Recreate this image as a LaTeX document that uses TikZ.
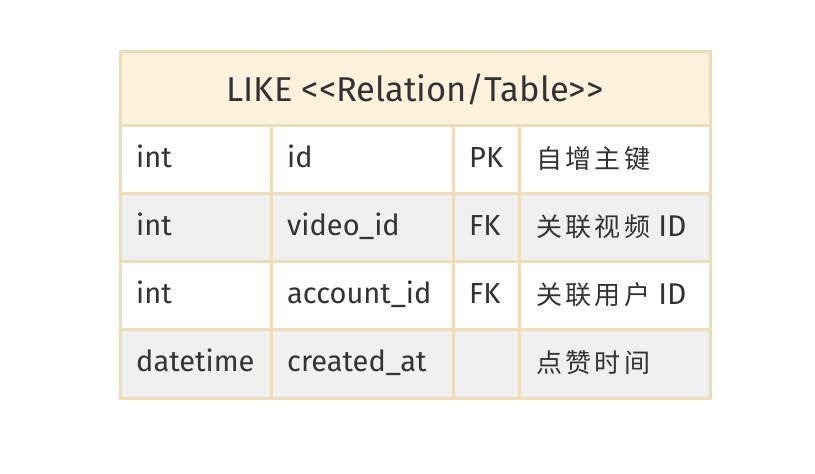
\documentclass[tikz,border=0pt]{standalone}
\usepackage{fontspec}
\setmainfont{Fira Sans}
\newfontfamily\latf{Fira Sans}
\newfontfamily\cjk[LetterSpace=13]{Noto Sans CJK SC}
\definecolor{bordc}{HTML}{EEDDB6}
\definecolor{headc}{HTML}{FEF2DD}
\definecolor{grayc}{HTML}{F0F0F0}
\definecolor{txtc}{HTML}{333333}
\tikzset{
  cell/.style={anchor=base west, inner sep=0pt, text=txtc, font=\fontsize{29}{33}\selectfont},
  ccell/.style={anchor=base west, inner sep=0pt, text=txtc, font=\fontsize{26}{30}\selectfont\cjk},
  head/.style={anchor=base, inner sep=0pt, text=txtc, font=\fontsize{34.5}{38}\selectfont},
  grid/.style={draw=bordc, line width=3pt}
}
\begin{document}
\begin{tikzpicture}[x=1pt,y=-1pt]
\useasboundingbox[fill=white] (0,0) rectangle (815,474);
% fills
\fill[headc] (120,51) rectangle (710,125);
\fill[white] (120,125) rectangle (710,193);
\fill[grayc] (120,193) rectangle (710,261);
\fill[white] (120,261) rectangle (710,329);
\fill[grayc] (120,329) rectangle (710,398);
% grid
\draw[grid] (120,51) rectangle (710,398);
\foreach \y in {125,193,261,329} \draw[grid] (120,\y) -- (710,\y);
\foreach \x in {271,453,519} \draw[grid] (\x,125) -- (\x,398);
% header
\node[head] (title) at (415,101) {LIKE <{}<Relation/Table>{}>};
% rows
\node[cell] (r1a) at (136,167) {int};
\node[cell] (r1b) at (287,167) {id};
\node[cell] (r1c) at (469,167) {PK};
\node[ccell] (r1d) at (536,168) {自增主键};
\node[cell] (r2a) at (136,235) {int};
\node[cell] (r2b) at (287,235) {video\_id};
\node[cell] (r2c) at (469,235) {FK};
\node[ccell] (r2d) at (536,236) {关联视频{\latf\fontsize{30}{33}\selectfont\ ID}};
\node[cell] (r3a) at (136,303) {int};
\node[cell] (r3b) at (287,303) {account\_id};
\node[cell] (r3c) at (469,303) {FK};
\node[ccell] (r3d) at (536,304) {关联用户{\latf\fontsize{30}{33}\selectfont\ ID}};
\node[cell] (r4a) at (136,371) {datetime};
\node[cell] (r4b) at (287,371) {created\_at};
\node[ccell] (r4d) at (536,372) {点赞时间};
\end{tikzpicture}
\end{document}
